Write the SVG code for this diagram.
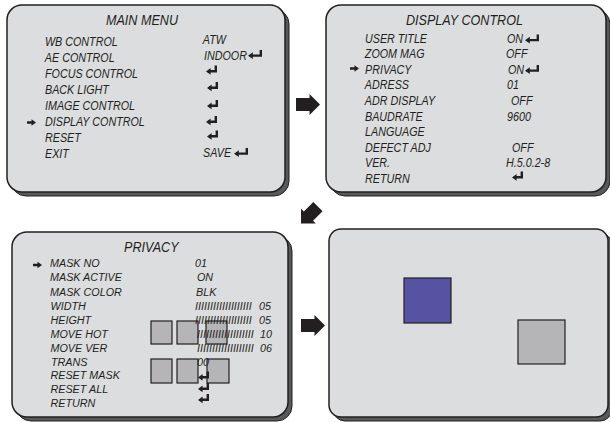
<svg xmlns="http://www.w3.org/2000/svg" xmlns:xlink="http://www.w3.org/1999/xlink" width="610" height="422" viewBox="0 0 610 422">
<style>
.bg{fill:#ffffff}
.panel{fill:#dcdddf;stroke:#231f20;stroke-width:1.5}
.shadow{fill:#58595b;stroke:#231f20;stroke-width:1}
.t{font-family:"Liberation Sans",Arial,sans-serif;font-style:italic;fill:#231f20;font-size:12.5px;transform-box:fill-box;transform-origin:0 0;transform:scaleX(0.86)}
.h{font-size:14px;transform:scaleX(0.9)}
.p{font-size:11px;transform:scaleX(0.98)}
.ic{fill:#231f20}
.sq{fill:#b5b5b7;stroke:#231f20;stroke-width:1.2}
.blue{fill:#5654a2;stroke:#231f20;stroke-width:1.2}
</style>
<defs>
<path id="ent" d="M11,0 H8.6 V4.6 H4.6 V2.4 L0,5.9 L4.6,9.2 V7 H11 Z"/>
<path id="entw" d="M14,0 H11.6 V4.6 H4.8 V2.2 L0,5.7 L4.8,9.0 V6.8 H14 Z"/>
<path id="ptr" d="M0,-1.3 H4.5 V-3.3 L9,0 L4.5,3.3 V1.3 H0 Z"/>
<path id="arr" d="M-24,-6.5 H-10.5 V-10.5 L0,0 L-10.5,10.5 V6.5 H-24 Z"/>
</defs>
<rect class="bg" x="0" y="0" width="610" height="422"/>

<g id="main-menu">
<rect class="shadow" x="11" y="9" width="278" height="187" rx="15"/>
<rect class="panel" x="7" y="5" width="278" height="187" rx="15"/>
<text class="t h" x="106" y="25">MAIN MENU</text>
<text class="t" x="45" y="46">WB CONTROL</text>
<text class="t" x="45" y="62">AE CONTROL</text>
<text class="t" x="45" y="78">FOCUS CONTROL</text>
<text class="t" x="45" y="94">BACK LIGHT</text>
<text class="t" x="45" y="110">IMAGE CONTROL</text>
<text class="t" x="45" y="126">DISPLAY CONTROL</text>
<text class="t" x="45" y="142">RESET</text>
<text class="t" x="45" y="158">EXIT</text>
<text class="t" x="203" y="44">ATW</text>
<text class="t" x="204" y="60">INDOOR</text>
<text class="t" x="203" y="157">SAVE</text>
<g class="ic">
<use xlink:href="#entw" x="248" y="50"/>
<use xlink:href="#ent" x="206" y="65.5"/>
<use xlink:href="#ent" x="207" y="82"/>
<use xlink:href="#ent" x="207" y="100"/>
<use xlink:href="#ent" x="206" y="116"/>
<use xlink:href="#ent" x="207" y="130.5"/>
<use xlink:href="#entw" x="234" y="148"/>
<use xlink:href="#ptr" x="27" y="122.5"/>
</g>
</g>

<g id="display-control">
<rect class="shadow" x="330" y="9" width="280" height="187" rx="15"/>
<rect class="panel" x="326" y="5" width="280" height="187" rx="15"/>
<text class="t h" x="406" y="25">DISPLAY CONTROL</text>
<text class="t" x="365" y="43">USER TITLE</text>
<text class="t" x="365" y="58">ZOOM MAG</text>
<text class="t" x="365" y="74">PRIVACY</text>
<text class="t" x="365" y="89.5">ADRESS</text>
<text class="t" x="365" y="105">ADR DISPLAY</text>
<text class="t" x="365" y="121">BAUDRATE</text>
<text class="t" x="365" y="136.5">LANGUAGE</text>
<text class="t" x="365" y="152">DEFECT ADJ</text>
<text class="t" x="365" y="167">VER.</text>
<text class="t" x="365" y="183">RETURN</text>
<text class="t" x="507" y="43">ON</text>
<text class="t" x="506" y="58">OFF</text>
<text class="t" x="508" y="74">ON</text>
<text class="t" x="507" y="89.5">01</text>
<text class="t" x="511" y="105">OFF</text>
<text class="t" x="507" y="121">9600</text>
<text class="t" x="512" y="152">OFF</text>
<text class="t" x="506" y="167">H.5.0.2-8</text>
<g class="ic">
<use xlink:href="#entw" x="525" y="34.5"/>
<use xlink:href="#entw" x="525" y="65"/>
<use xlink:href="#ent" x="512" y="171.5"/>
<use xlink:href="#ptr" x="350" y="68.5"/>
</g>
</g>

<g id="privacy">
<rect class="shadow" x="16" y="236" width="276" height="185" rx="15"/>
<rect class="panel" x="12" y="232" width="276" height="185" rx="15"/>
<rect class="sq" x="151" y="321" width="21" height="23"/>
<rect class="sq" x="177" y="321" width="21" height="23"/>
<rect class="sq" x="206" y="321" width="21" height="23"/>
<rect class="sq" x="151" y="359" width="21" height="24"/>
<rect class="sq" x="177" y="359" width="21" height="24"/>
<rect class="sq" x="207" y="359" width="22" height="24"/>
<text class="t h" x="124" y="252">PRIVACY</text>
<text class="t p" x="50" y="267">MASK NO</text>
<text class="t p" x="50" y="281.5">MASK ACTIVE</text>
<text class="t p" x="50" y="296">MASK COLOR</text>
<text class="t p" x="50.5" y="310">WIDTH</text>
<text class="t p" x="50.5" y="324">HEIGHT</text>
<text class="t p" x="50.5" y="338">MOVE HOT</text>
<text class="t p" x="50.5" y="352">MOVE VER</text>
<text class="t p" x="51" y="366">TRANS</text>
<text class="t p" x="50.5" y="379.5">RESET  MASK</text>
<text class="t p" x="50.5" y="393.5">RESET ALL</text>
<text class="t p" x="50.5" y="407">RETURN</text>
<text class="t p" x="195" y="267">01</text>
<text class="t p" x="197" y="281.5">ON</text>
<text class="t p" x="196" y="296">BLK</text>
<text class="t p" x="195" y="310">IIIIIIIIIIIIIIIIIII</text>
<text class="t p" x="195" y="324">IIIIIIIIIIIIIIIIIII</text>
<text class="t p" x="197" y="338">IIIIIIIIIIIIIIIIIII</text>
<text class="t p" x="197" y="352">IIIIIIIIIIIIIIIIIII</text>
<text class="t p" x="259" y="310">05</text>
<text class="t p" x="259" y="324">05</text>
<text class="t p" x="260" y="338">10</text>
<text class="t p" x="260" y="352">06</text>
<text class="t p" x="197" y="366">00</text>
<g class="ic">
<use xlink:href="#ent" x="198" y="371.5"/>
<use xlink:href="#ent" x="198" y="383"/>
<use xlink:href="#ent" x="198" y="394"/>
<use xlink:href="#ptr" x="33" y="265"/>
</g>
</g>

<g id="screen">
<rect class="shadow" x="333" y="233" width="279" height="188" rx="12"/>
<rect class="panel" x="329" y="229" width="279" height="188" rx="12"/>
<rect class="blue" x="404" y="278" width="47" height="45"/>
<rect class="sq" x="518" y="320" width="47" height="44"/>
</g>

<g id="connectors" class="ic">
<use xlink:href="#arr" transform="translate(320,104.5)"/>
<use xlink:href="#arr" transform="translate(301,223.5) rotate(135)"/>
<use xlink:href="#arr" transform="translate(325,325.5)"/>
</g>
</svg>
